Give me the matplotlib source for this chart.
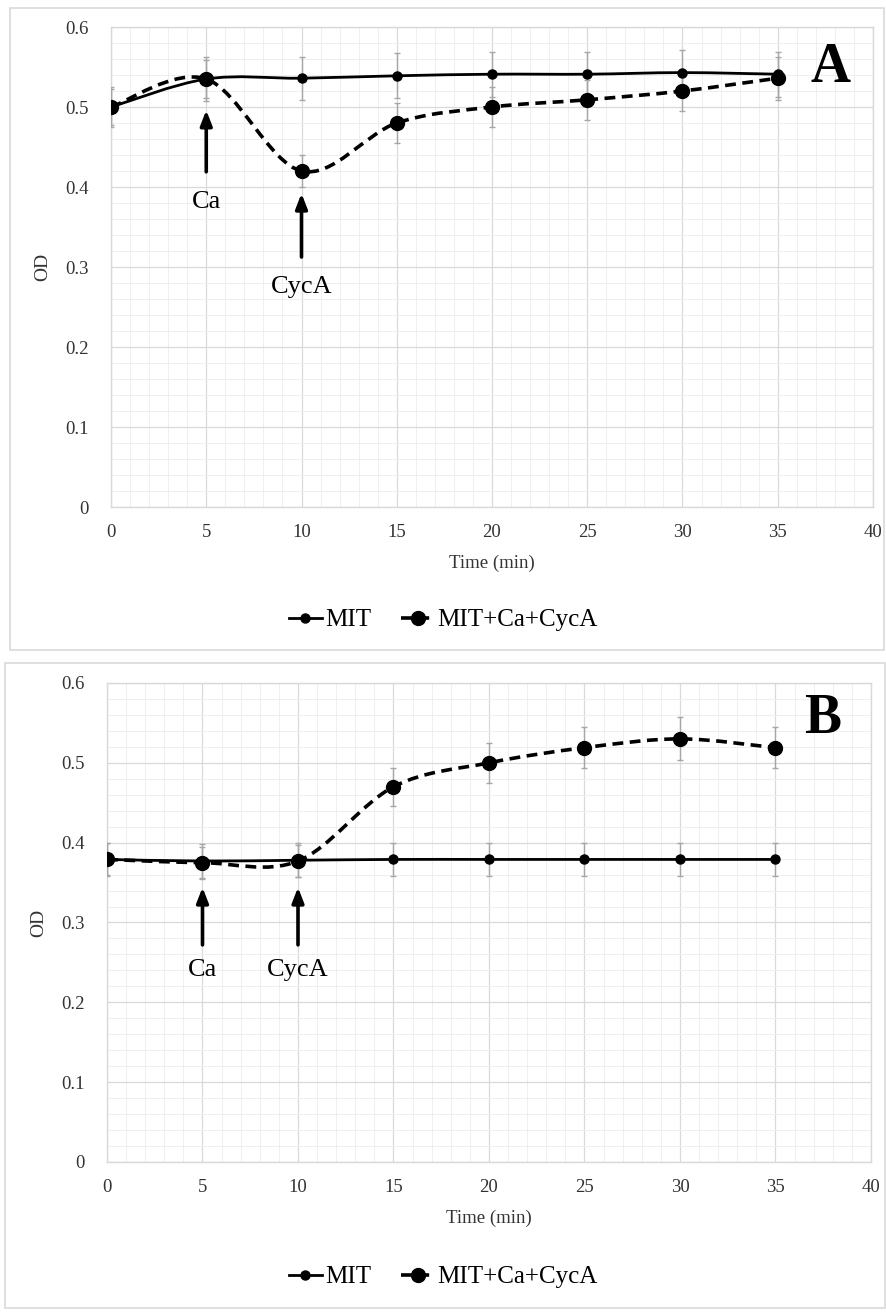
#!/usr/bin/env python3
"""Redraw the two OD time-course panels (A and B) with Ca / CycA addition arrows."""

import matplotlib

matplotlib.use("Agg")

import matplotlib.pyplot as plt
import numpy as np
from matplotlib.lines import Line2D
from matplotlib.patches import PathPatch, Rectangle
from matplotlib.path import Path
from matplotlib.ticker import FuncFormatter, MultipleLocator

plt.rcParams["font.family"] = ["Liberation Serif", "DejaVu Serif"]

time_min = [0, 5, 10, 15, 20, 25, 30, 35]

# panel A
a_mit = [0.500, 0.535, 0.536, 0.539, 0.541, 0.541, 0.543, 0.541]
a_mit_err = [0.025, 0.027, 0.027, 0.028, 0.028, 0.028, 0.028, 0.028]
a_cyca = [0.500, 0.535, 0.420, 0.480, 0.500, 0.509, 0.520, 0.536]
a_cyca_err = [0.022, 0.024, 0.020, 0.025, 0.025, 0.025, 0.025, 0.027]

# panel B
b_mit = [0.379, 0.377, 0.378, 0.379, 0.379, 0.379, 0.379, 0.379]
b_mit_err = [0.021, 0.021, 0.021, 0.021, 0.021, 0.021, 0.021, 0.021]
b_cyca = [0.379, 0.375, 0.377, 0.470, 0.500, 0.519, 0.530, 0.519]
b_cyca_err = [0.020, 0.020, 0.020, 0.024, 0.025, 0.026, 0.027, 0.026]

series_labels = ["MIT", "MIT+Ca+CycA"]

FIG_W, FIG_H = 887, 1312
GRID_MAJOR = "#d9d9d9"
GRID_MINOR = "#efefef"
ERR_COLOR = "#a6a6a6"
DASH = (0, (3.0, 1.8))


def smooth_path(xs, ys):
    """Excel-like smoothed line: cubic Bezier segments with Catmull-Rom handles."""
    pts = np.column_stack([xs, ys]).astype(float)
    n = len(pts)
    verts = [pts[0]]
    codes = [Path.MOVETO]
    for i in range(n - 1):
        prev_pt = pts[i - 1] if i > 0 else pts[i]
        next_pt = pts[i + 2] if i + 2 < n else pts[i + 1]
        c1 = pts[i] + (pts[i + 1] - prev_pt) / 6.0
        c2 = pts[i + 1] - (next_pt - pts[i]) / 6.0
        verts += [c1, c2, pts[i + 1]]
        codes += [Path.CURVE4] * 3
    return Path(verts, codes)


def px_box(x0, y0, x1, y1):
    """Convert a pixel box (top-left origin) to figure fraction rect."""
    return [x0 / FIG_W, 1 - y1 / FIG_H, (x1 - x0) / FIG_W, (y1 - y0) / FIG_H]


def draw_panel(ax, mit, mit_err, cyca, cyca_err, arrows, letter, letter_pos):
    ax.set_xlim(0, 40)
    ax.set_ylim(0, 0.6)
    ax.xaxis.set_major_locator(MultipleLocator(5))
    ax.yaxis.set_major_locator(MultipleLocator(0.1))
    ax.xaxis.set_minor_locator(MultipleLocator(1))
    ax.yaxis.set_minor_locator(MultipleLocator(0.02))
    ax.yaxis.set_major_formatter(FuncFormatter(lambda v, _: f"{v:.1f}".rstrip("0").rstrip(".") if v else "0"))
    ax.grid(True, which="major", color=GRID_MAJOR, lw=0.9, zorder=0)
    ax.grid(True, which="minor", color=GRID_MINOR, lw=0.7, zorder=0)
    ax.set_axisbelow(True)
    for spine in ax.spines.values():
        spine.set_color(GRID_MAJOR)
        spine.set_linewidth(1.0)
    ax.tick_params(which="both", length=0, labelsize=13.5, colors="#333333")
    ax.tick_params(axis="y", pad=16)
    ax.tick_params(axis="x", pad=12)
    ax.set_xlabel("Time (min)", fontsize=13.5, color="#333333", labelpad=10)
    ax.set_ylabel("OD", fontsize=14, color="#333333", labelpad=10)

    ax.add_patch(PathPatch(smooth_path(time_min, mit), fill=False, ec="black",
                           lw=2.0, zorder=3))
    ax.add_patch(PathPatch(smooth_path(time_min, cyca), fill=False, ec="black",
                           lw=2.6, ls=DASH, zorder=3))
    ax.errorbar(time_min, mit, yerr=mit_err, fmt="o", color="black", ms=6.5,
                ecolor=ERR_COLOR, elinewidth=1.0, capsize=2.5, capthick=1.0, zorder=4)
    ax.errorbar(time_min, cyca, yerr=cyca_err, fmt="o", color="black", ms=10,
                ecolor=ERR_COLOR, elinewidth=1.0, capsize=2.5, capthick=1.0, zorder=4)

    for label, x, head, tail, text_y in arrows:
        ax.annotate("", xy=(x, head), xytext=(x, tail),
                    arrowprops=dict(arrowstyle="-|>,head_length=0.9,head_width=0.35",
                                    lw=2.6, color="black", shrinkA=0, shrinkB=0),
                    zorder=5)
        ax.text(x, text_y, label, fontsize=19, ha="center", va="center", zorder=5)

    ax.text(letter_pos[0], letter_pos[1], letter, transform=ax.transAxes,
            fontsize=40, fontweight="bold", ha="center", va="center")


fig = plt.figure(figsize=(FIG_W / 100, FIG_H / 100), dpi=100)

for rect in (px_box(10, 8, 884, 650), px_box(5, 663, 885, 1308)):
    fig.add_artist(Rectangle((rect[0], rect[1]), rect[2], rect[3],
                             transform=fig.transFigure, fill=False,
                             ec="#d9d9d9", lw=1.2))

ax_a = fig.add_axes(px_box(111, 27, 873, 507))
draw_panel(ax_a, a_mit, a_mit_err, a_cyca, a_cyca_err,
           [("Ca", 5, 0.496, 0.419, 0.381), ("CycA", 10, 0.392, 0.3125, 0.275)],
           "A", (0.944, 0.915))

ax_b = fig.add_axes(px_box(107, 683, 871, 1162))
draw_panel(ax_b, b_mit, b_mit_err, b_cyca, b_cyca_err,
           [("Ca", 5, 0.344, 0.272, 0.240), ("CycA", 10, 0.344, 0.272, 0.240)],
           "B", (0.937, 0.925))

handles = [
    Line2D([], [], color="black", lw=2.0, marker="o", ms=6.5),
    Line2D([], [], color="black", lw=2.6, ls=DASH, marker="o", ms=10),
]
for y_px in (620, 1277):
    fig.legend(handles, series_labels, loc="center", bbox_to_anchor=(0.5, 1 - y_px / FIG_H),
               ncol=2, frameon=False, fontsize=18, handlelength=1.3,
               handletextpad=0.15, columnspacing=1.2)

fig.savefig("out.png", dpi=100)
plt.close(fig)
